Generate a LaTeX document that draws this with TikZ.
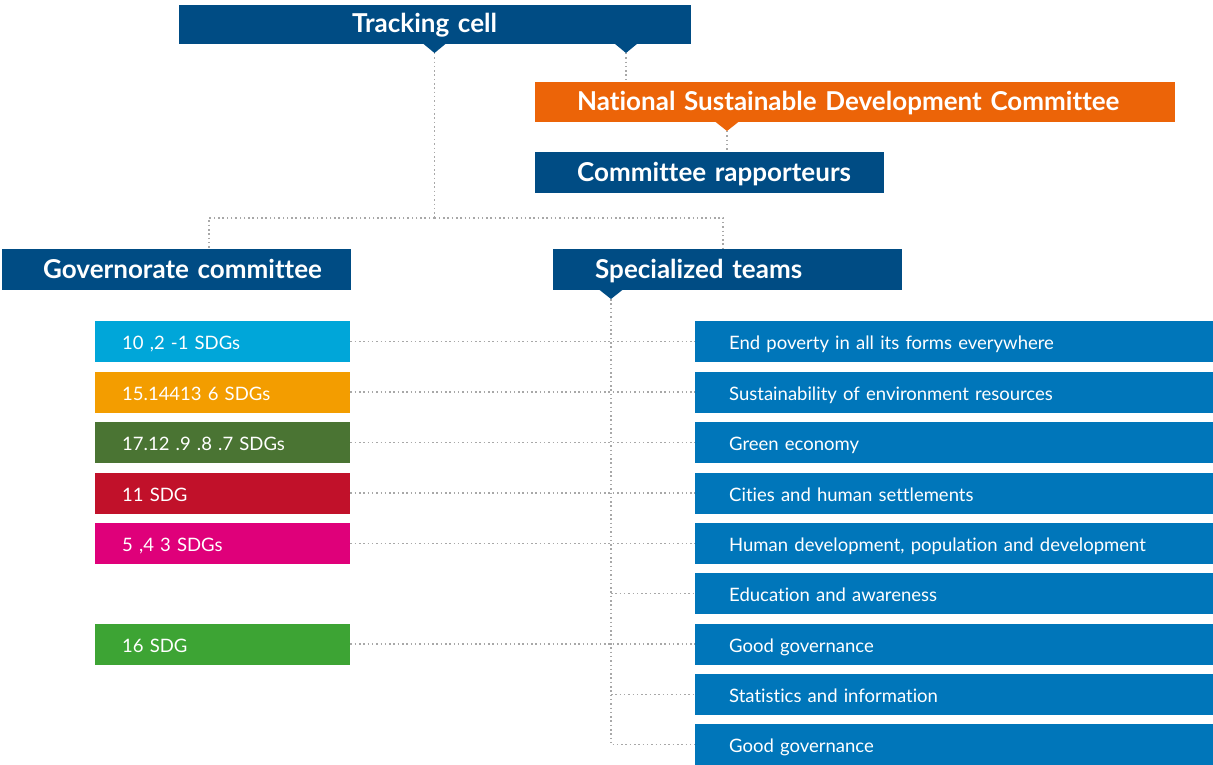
\documentclass[tikz,border=0pt]{standalone}
\usepackage{fontspec}
\setmainfont{Lato}[Ligatures=NoCommon]
\definecolor{navy}{HTML}{004C84}
\definecolor{ndorange}{HTML}{EC6408}
\definecolor{teamblue}{HTML}{0076BA}
\definecolor{sdgA}{HTML}{00A6D9}
\definecolor{sdgB}{HTML}{F39D00}
\definecolor{sdgC}{HTML}{4A7433}
\definecolor{sdgD}{HTML}{C1112A}
\definecolor{sdgE}{HTML}{DF007A}
\definecolor{sdgF}{HTML}{3DA434}
\definecolor{dotgray}{HTML}{A8A8A8}
\begin{document}
\begin{tikzpicture}[x=1pt,y=-1pt,
  headbox/.style={fill=navy, text=white, font=\bfseries\fontsize{26}{28}\selectfont,
    anchor=north west, inner xsep=0pt, inner ysep=0pt, align=left, minimum height=41pt,
    text height=19pt, text depth=2pt},
  teambox/.style={fill=teamblue, text=white, font=\fontsize{18.5}{20}\selectfont,
    anchor=north west, inner xsep=0pt, inner ysep=0pt, align=left, text width=518pt, minimum height=41pt,
    text height=17pt, text depth=1pt},
  sdgbox/.style={fill=#1, text=white, font=\fontsize{18.5}{20}\selectfont,
    anchor=north west, inner xsep=0pt, inner ysep=0pt, align=left, text width=255pt, minimum height=41pt,
    text height=17pt, text depth=1pt},
  dotline/.style={draw=dotgray, line width=1.5pt, dash pattern=on 1.5pt off 2.8pt}
]
\useasboundingbox (0,0) rectangle (1213,765);

% head boxes
\node[headbox, text width=512pt, minimum height=39pt, text height=18pt, text depth=3pt] (tc) at (179,5) {\hspace*{173pt}Tracking cell};
\node[headbox, fill=ndorange, text width=640pt, minimum height=40pt] (nsdc) at (535,82) {\hspace*{42pt}National Sustainable Development Committee};
\node[headbox, text width=349pt] (cr) at (535,152) {\hspace*{42pt}Committee rapporteurs};
\node[headbox, text width=349pt] (gov) at (2,249) {\hspace*{41pt}Governorate committee};
\node[headbox, text width=349pt] (sp) at (553,249) {\hspace*{42pt}Specialized teams};

% pointers
\fill[navy] (423,43.5) -- (446,43.5) -- (434.5,53) -- cycle;
\fill[navy] (614.5,43.5) -- (637.5,43.5) -- (626,53) -- cycle;
\fill[ndorange] (715,121.5) -- (739,121.5) -- (727,131) -- cycle;
\fill[navy] (599,289.5) -- (623,289.5) -- (611,299) -- cycle;

\coordinate (tcL) at (434.5,53);
\coordinate (tcR) at (626,53);
\coordinate (junc) at (434.5,218);
\coordinate (govtop) at (209,249);
\coordinate (sptop) at (723,249);
\coordinate (nstip) at (727,131);
\coordinate (sptip) at (611,299);

% SDG boxes
\node[sdgbox=sdgA] (s1) at (95,321) {\hspace*{27pt}10 ,2 -1 SDGs};
\node[sdgbox=sdgB] (s2) at (95,371.5) {\hspace*{27pt}15.14413 6 SDGs};
\node[sdgbox=sdgC] (s3) at (95,422) {\hspace*{27pt}17.12 .9 .8 .7 SDGs};
\node[sdgbox=sdgD] (s4) at (95,472.5) {\hspace*{27pt}11 SDG};
\node[sdgbox=sdgE] (s5) at (95,523) {\hspace*{27pt}5 ,4 3 SDGs};
\node[sdgbox=sdgF] (s7) at (95,623.5) {\hspace*{27pt}16 SDG};

% team boxes
\node[teambox] (t1) at (695,321) {\hspace*{34pt}End poverty in all its forms everywhere};
\node[teambox] (t2) at (695,371.5) {\hspace*{34pt}Sustainability of environment resources};
\node[teambox] (t3) at (695,422) {\hspace*{34pt}Green economy};
\node[teambox] (t4) at (695,472.5) {\hspace*{34pt}Cities and human settlements};
\node[teambox] (t5) at (695,523) {\hspace*{34pt}Human development, population and development};
\node[teambox] (t6) at (695,573) {\hspace*{34pt}Education and awareness};
\node[teambox] (t7) at (695,623.5) {\hspace*{34pt}Good governance};
\node[teambox] (t8) at (695,674) {\hspace*{34pt}Statistics and information};
\node[teambox] (t9) at (695,724) {\hspace*{34pt}Good governance};

% connectors
\draw[dotline] (tcL) -- (junc);
\draw[dotline] (junc) -| (govtop);
\draw[dotline] (junc) -| (sptop);
\draw[dotline] (tcR) -- (tcR |- nsdc.north);
\draw[dotline] (nstip) -- (nstip |- cr.north);
\draw[dotline] (sptip) |- (t9.west);
\draw[dotline] (sptip |- t6.west) -- (t6.west);
\draw[dotline] (sptip |- t8.west) -- (t8.west);
\draw[dotline] (s1.east) -- (t1.west);
\draw[dotline] (s2.east) -- (t2.west);
\draw[dotline] (s3.east) -- (t3.west);
\draw[dotline] (s4.east) -- (t4.west);
\draw[dotline] (s5.east) -- (t5.west);
\draw[dotline] (s7.east) -- (t7.west);
\end{tikzpicture}
\end{document}
